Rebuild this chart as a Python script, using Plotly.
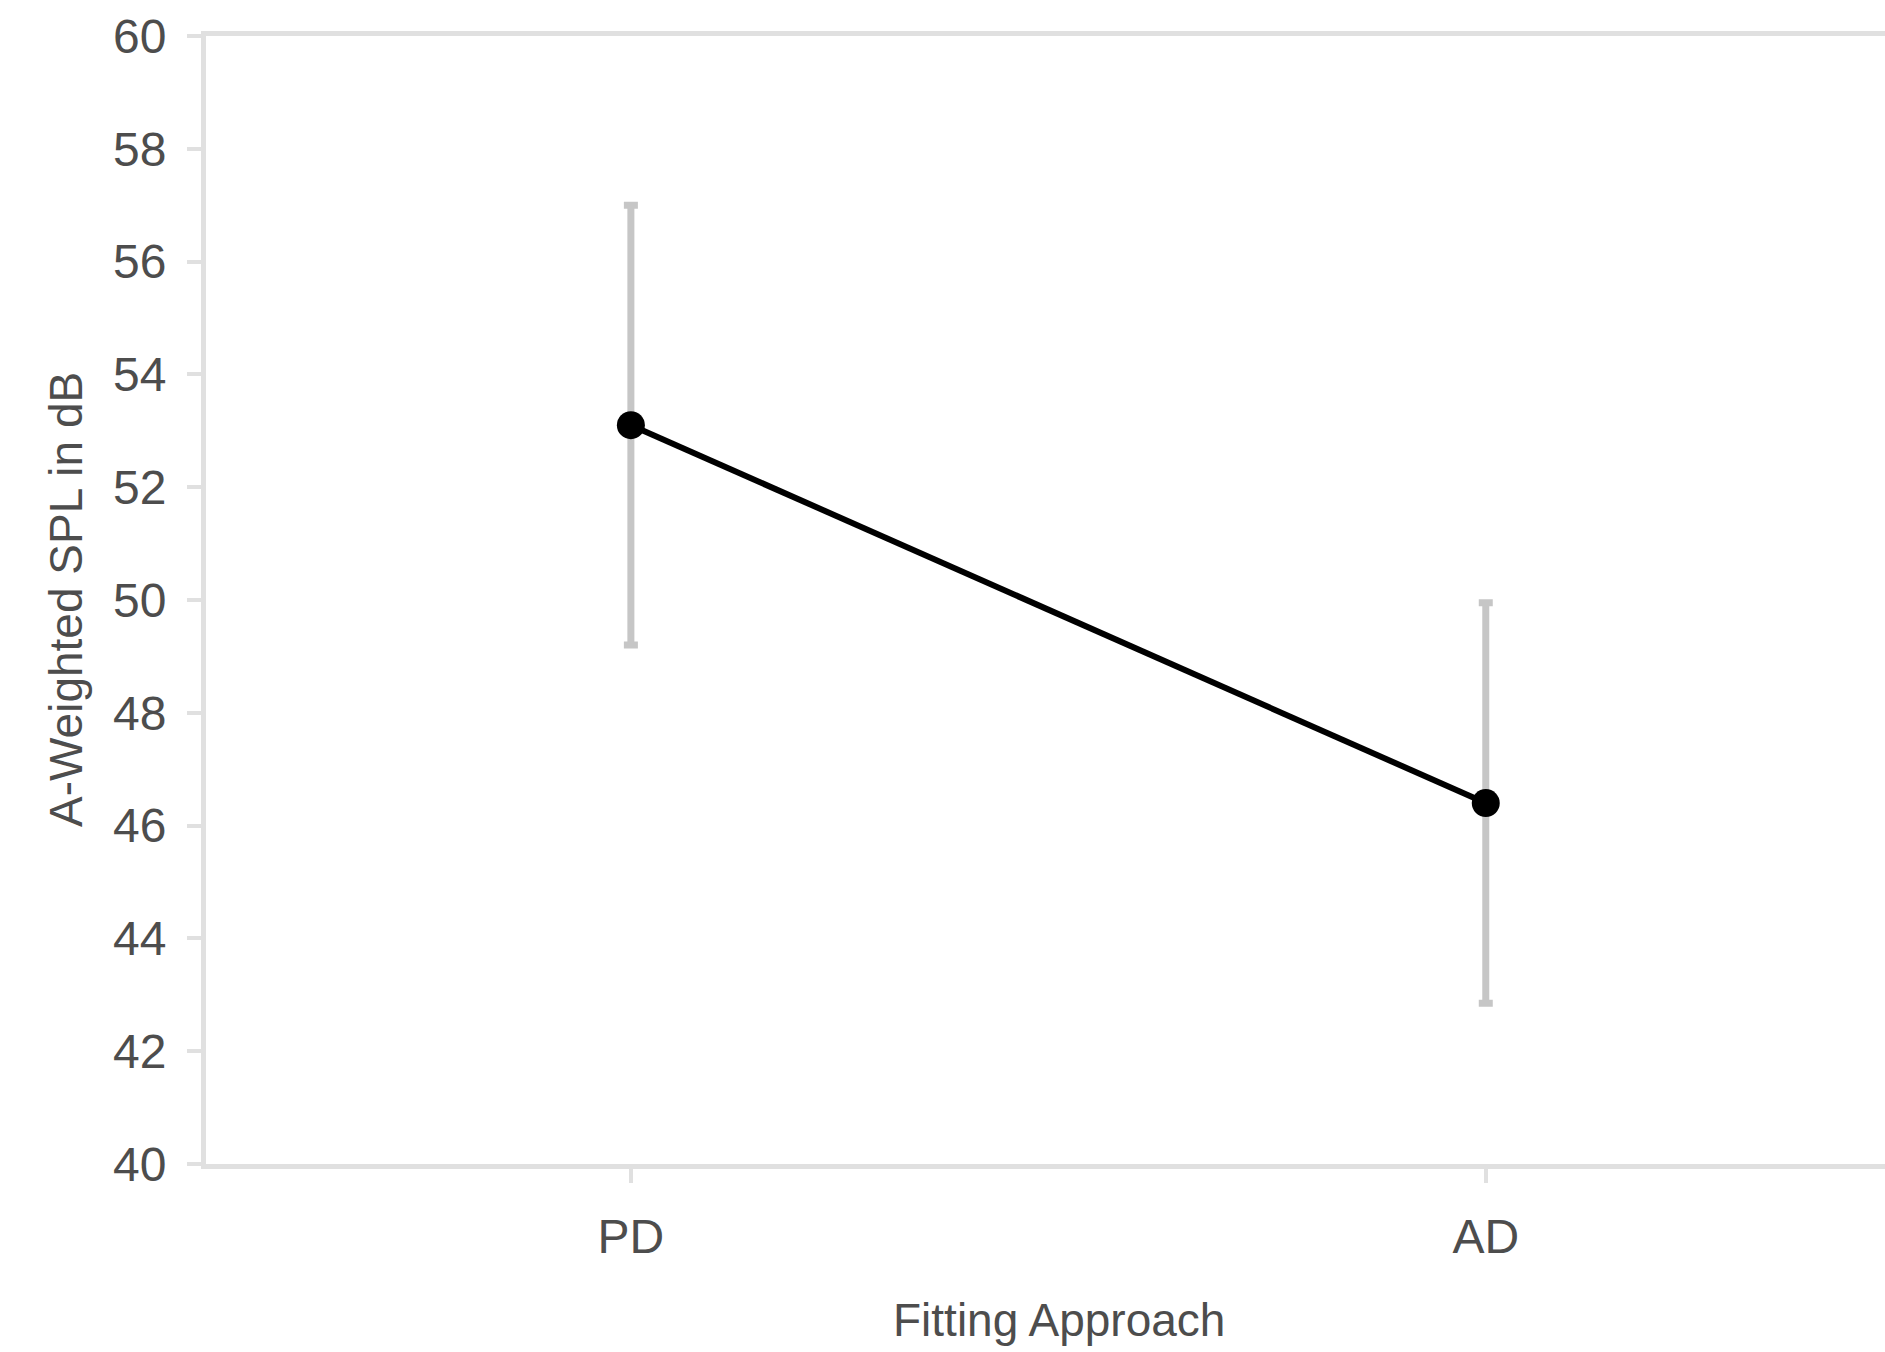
import plotly.graph_objects as go

categories = ["PD", "AD"]
means = [53.1, 46.4]
errors = [3.9, 3.55]
y_ticks = list(range(40, 61, 2))

W, H = 1885, 1352
L, R, T, B = 206, 0, 36, 188

fig = go.Figure()
fig.add_trace(go.Scatter(
    x=categories, y=means,
    mode="lines+markers",
    line=dict(color="black", width=6),
    marker=dict(color="black", size=28),
    error_y=dict(type="data", array=errors, visible=True,
                 color="#c6c6c6", thickness=7, width=7),
    showlegend=False,
))

font_family = "Liberation Sans, Arial, sans-serif"
text_color = "#4d4d4d"

fig.update_layout(
    width=W, height=H,
    margin=dict(l=L, r=R, t=T, b=B, pad=0),
    paper_bgcolor="white", plot_bgcolor="white",
    font=dict(family=font_family, color=text_color, size=48),
    xaxis=dict(
        type="category",
        range=[-0.497, 1.467],
        showline=True, linecolor="#e0e0e0", linewidth=5, mirror=True,
        ticks="outside", ticklen=14, tickwidth=4, tickcolor="#e0e0e0",
        showgrid=False, zeroline=False,
        tickfont=dict(size=48, color=text_color, family=font_family),
        ticklabelstandoff=12,
    ),
    yaxis=dict(
        range=[40, 60],
        tickvals=y_ticks,
        showline=True, linecolor="#e0e0e0", linewidth=5,
        ticks="outside", ticklen=14, tickwidth=4, tickcolor="#e0e0e0",
        showgrid=False, zeroline=False,
        tickfont=dict(size=48, color=text_color, family=font_family),
        ticklabelstandoff=11,
    ),
)

plot_w = W - L - R
plot_h = H - T - B
fig.add_annotation(
    text="A-Weighted SPL in dB", textangle=-90,
    xref="paper", yref="paper",
    x=(66 - L) / plot_w, y=0.5,
    xanchor="center", yanchor="middle", showarrow=False,
    font=dict(size=46, color=text_color, family=font_family),
)
fig.add_annotation(
    text="Fitting Approach",
    xref="paper", yref="paper",
    x=(1059 - L) / plot_w, y=-(1320 - (T + plot_h)) / plot_h,
    xanchor="center", yanchor="middle", showarrow=False,
    font=dict(size=46, color=text_color, family=font_family),
)

fig.write_html(
    "out.html",
    config={"displayModeBar": False},
    post_script="document.body.style.margin='0';document.body.style.overflow='hidden';",
)
